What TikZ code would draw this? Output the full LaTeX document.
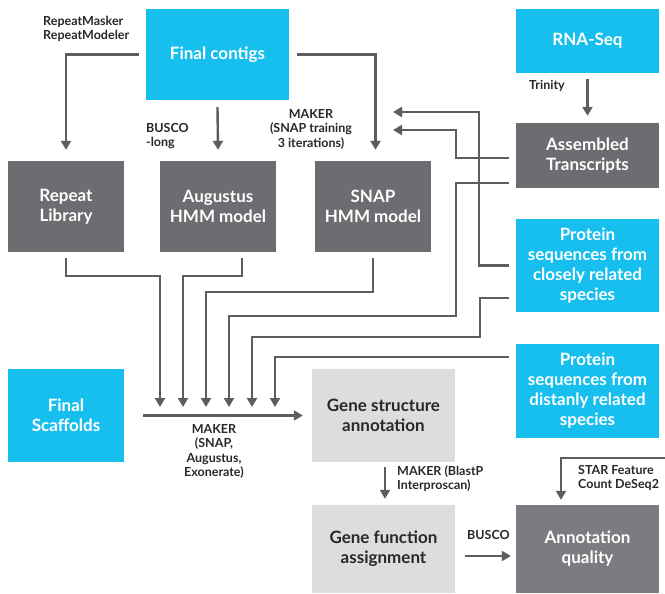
\documentclass[tikz,border=0pt]{standalone}
\usepackage{fontspec}
\setmainfont{Lato}
\usetikzlibrary{arrows.meta}
\definecolor{cyanbox}{RGB}{23,191,239}
\definecolor{darkbox}{RGB}{108,109,112}
\definecolor{midbox}{RGB}{123,124,127}
\definecolor{lightbox}{RGB}{220,221,223}
\definecolor{linecol}{RGB}{92,93,96}
\definecolor{txtcol}{RGB}{40,40,42}
\tikzset{
  boxbase/.style={rectangle, inner sep=0pt, align=center, font=\fontsize{17}{20}\selectfont\bfseries},
  cbox/.style={boxbase, fill=cyanbox, text=white},
  dbox/.style={boxbase, fill=darkbox, text=white},
  mbox/.style={boxbase, fill=midbox, text=white},
  lbox/.style={boxbase, fill=lightbox, text=txtcol},
  lbl/.style={inner sep=0pt, text=txtcol, font=\fontsize{12.5}{14.5}\selectfont\bfseries},
  arr/.style={draw=linecol, line width=2.4pt, -{Triangle[width=10pt,length=9pt]}},
  ln/.style={draw=linecol, line width=2.4pt}
}
\begin{document}
\begin{tikzpicture}[x=1pt,y=-1pt]
\useasboundingbox (0,0) rectangle (665,594);
% boxes
\node[cbox, minimum width=143pt, minimum height=91pt] (contigs) at (217.5,54.5) {Final contigs};
\node[cbox, minimum width=143pt, minimum height=64pt] (rnaseq) at (587.5,41) {RNA-Seq};
\node[dbox, minimum width=143pt, minimum height=65pt] (assembled) at (587.5,155.5) {Assembled\\Transcripts};
\node[cbox, minimum width=143pt, minimum height=93pt] (protclose) at (587.5,265.5) {Protein\\sequences from\\closely related\\species};
\node[cbox, minimum width=143pt, minimum height=94pt] (protdist) at (587.5,391) {Protein\\sequences from\\distanly related\\species};
\node[dbox, minimum width=116pt, minimum height=91pt] (replib) at (66,206.5) {Repeat\\Library};
\node[dbox, minimum width=116pt, minimum height=91pt] (augustus) at (218,206.5) {Augustus\\HMM model};
\node[dbox, minimum width=116pt, minimum height=91pt] (snap) at (373,206.5) {SNAP\\HMM model};
\node[cbox, minimum width=116pt, minimum height=93pt] (scaffolds) at (66,415.5) {Final\\Scaffolds};
\node[lbox, minimum width=143pt, minimum height=93pt] (genestruct) at (383.5,415.5) {Gene structure\\annotation};
\node[lbox, minimum width=143pt, minimum height=88pt] (genefunc) at (383.5,549) {Gene function\\assignment};
\node[mbox, minimum width=143pt, minimum height=88pt] (annqual) at (587.5,549) {Annotation\\quality};
% free ends
\coordinate (t1) at (393,112);
\coordinate (t2) at (393,130);
\coordinate (m1) at (160,407);
\coordinate (m2) at (183,407);
\coordinate (m3) at (206,407);
\coordinate (m4) at (229,407);
\coordinate (m5) at (252,407);
\coordinate (m6) at (275,407);
\coordinate (starsrc) at (666,458);
% connectors from contigs
\draw[arr] ([xshift=-7pt]contigs.west) -| ([yshift=11pt]replib.north);
\draw[arr] ([yshift=-7pt]contigs.south) -- ([yshift=11pt]augustus.north);
\draw[arr] ([xshift=8pt]contigs.east) -| ([xshift=2.5pt,yshift=11pt]snap.north);
\draw[arr] ([yshift=-6pt]rnaseq.south) -- ([yshift=7pt]assembled.north);
% arrows back toward SNAP training
\draw[arr] ([xshift=-7pt]protclose.west) -- ++(-30,0) |- (t1);
\draw[arr] ([xshift=-7pt,yshift=-2.5pt]assembled.west) -- ++(-53,0) |- (t2);
% evidence into MAKER
\draw[arr] ([yshift=-6pt]replib.south) -- ++(0,18) -| (m1);
\draw[arr] ([xshift=24pt,yshift=-6pt]augustus.south) -- ++(0,18) -| (m2);
\draw[arr] ([yshift=-6pt]snap.south) -- ++(0,34) -| (m3);
\draw[arr] ([xshift=-7pt,yshift=-27.5pt]assembled.west) -- ++(-53,0) -- ++(0,133) -| (m4);
\draw[arr] ([xshift=-7pt,yshift=-32.5pt]protclose.west) -- ++(-29,0) -- ++(0,39) -| (m5);
\draw[arr] ([xshift=-7pt,yshift=34pt]protdist.west) -| (m6);
\draw[arr] ([xshift=19pt]scaffolds.east) -- ([xshift=-9pt]genestruct.west);
\draw[arr] ([xshift=1.5pt,yshift=-5pt]genestruct.south) -- ([xshift=1.5pt,yshift=6pt]genefunc.north);
\draw[arr] ([xshift=10pt,yshift=-7pt]genefunc.east) -- ([xshift=-5pt,yshift=-7pt]annqual.west);
\draw[arr] (starsrc) -| ([xshift=-26.5pt,yshift=5pt]annqual.north);
% labels
\node[lbl, align=left, anchor=north west] (lrep) at (43,16) {RepeatMasker\\RepeatModeler};
\node[lbl, align=left, anchor=north west] (lbusco) at (146,123) {BUSCO\\-long};
\node[lbl, align=center, anchor=north] (lsnap) at (311,109) {MAKER\\(SNAP training\\3 iterations)};
\node[lbl, align=left, anchor=north west] (ltrin) at (529,80) {Trinity};
\node[lbl, align=center, anchor=north] (lmaker) at (214,424) {MAKER\\(SNAP,\\Augustus,\\Exonerate)};
\node[lbl, align=left, anchor=north west] (lblast) at (397,465) {MAKER (BlastP\\Interproscan)};
\node[lbl, align=left, anchor=north west] (lbusco2) at (467,530) {BUSCO};
\node[lbl, align=left, anchor=north west] (lstar) at (578,465) {STAR Feature\\Count DeSeq2};
\end{tikzpicture}
\end{document}
